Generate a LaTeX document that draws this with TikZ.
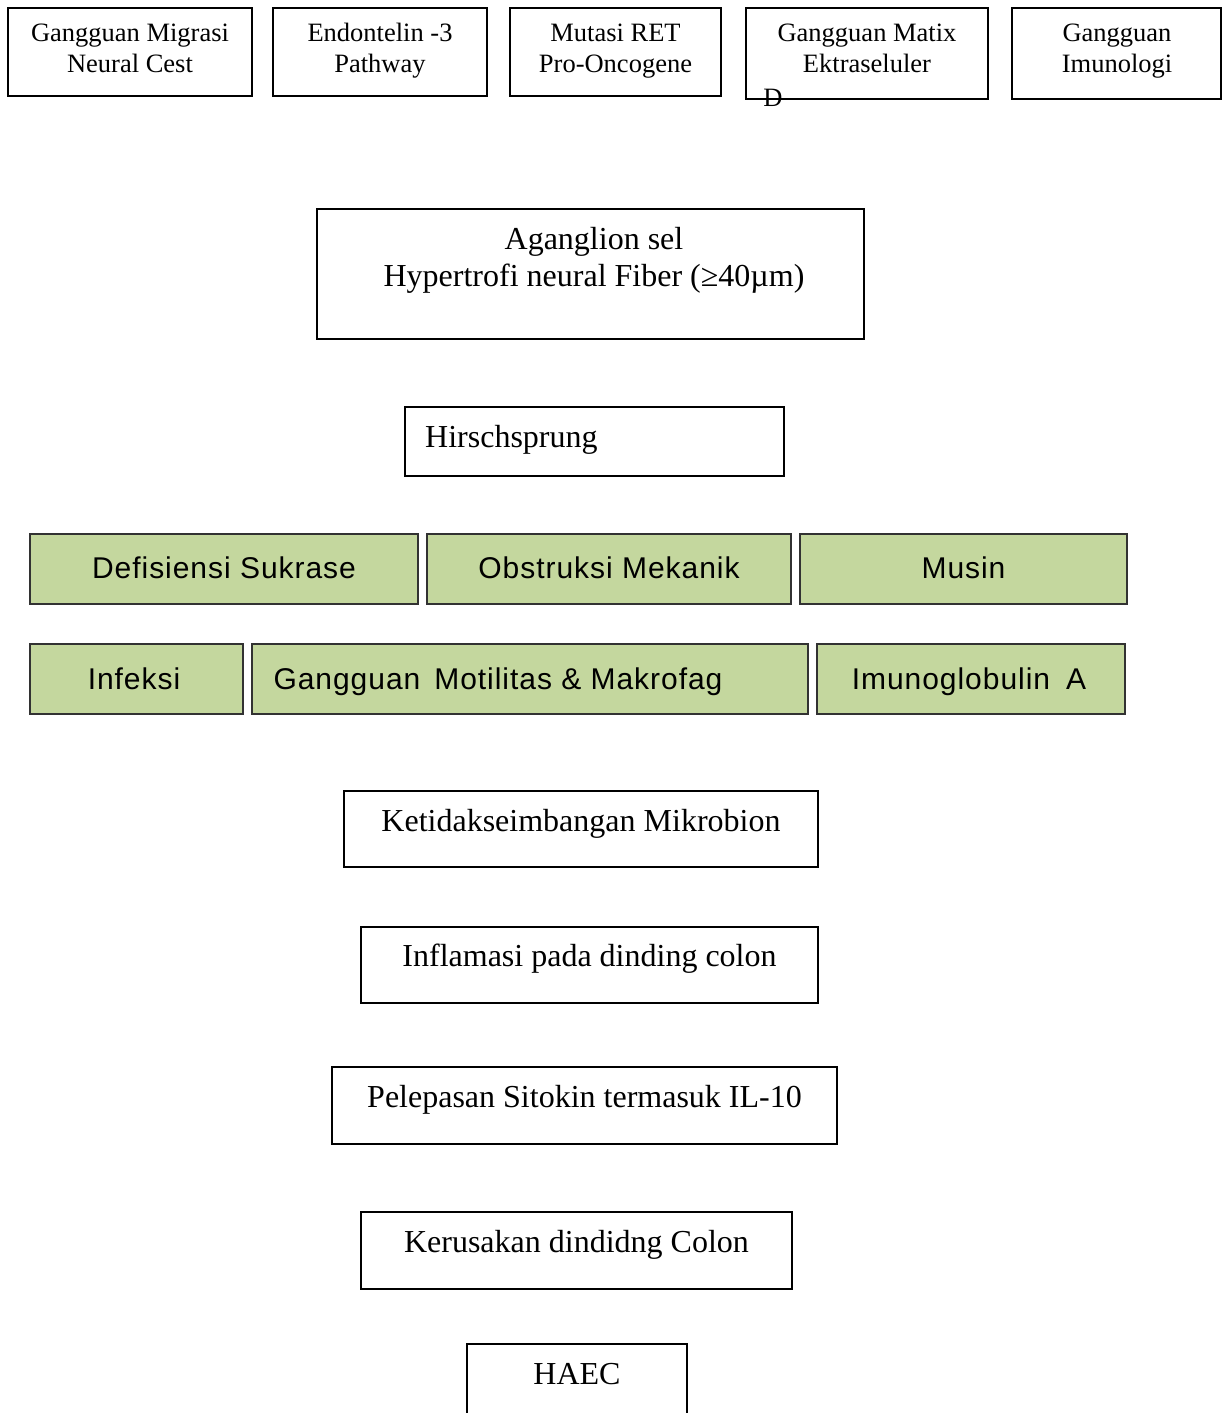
\documentclass[tikz,border=0pt]{standalone}
\usepackage{fontspec}
\setmainfont{Liberation Serif}
\newfontfamily\gfont[LetterSpace=3.2]{Liberation Sans}
\definecolor{gfill}{RGB}{196,215,158}
\definecolor{gline}{RGB}{50,50,50}
\begin{document}
\begin{tikzpicture}[x=1pt,y=-1pt,
  wbox/.style={draw=black, line width=1.3pt, inner sep=0pt},
  gbox/.style={draw=gline, fill=gfill, line width=1.3pt, inner sep=0pt},
  toptxt/.style={anchor=base, inner sep=0pt, align=center, font=\fontsize{26.5}{31}\selectfont},
  agtxt/.style={anchor=base, inner sep=0pt, align=center, font=\fontsize{32}{37}\selectfont},
  midtxt/.style={anchor=base, inner sep=0pt, align=center, font=\fontsize{32}{37}\selectfont},
  gtxt/.style={anchor=base, inner sep=0pt, font=\gfont\fontsize{30}{36}\selectfont}]
\useasboundingbox (0,0) rectangle (1223,1413);
% top row
\node[wbox, minimum width=244, minimum height=88] (b1) at (130,52) {};
\node[wbox, minimum width=214, minimum height=88] (b2) at (380,52) {};
\node[wbox, minimum width=211, minimum height=88] (b3) at (615.5,52) {};
\node[wbox, minimum width=242, minimum height=91] (b4) at (867,53.5) {};
\node[wbox, minimum width=209, minimum height=91] (b5) at (1116.5,53.5) {};
\node[toptxt] (t1) at (130,72) {Gangguan Migrasi\\Neural Cest};
\node[toptxt] (t2) at (380,72) {Endontelin -3\\Pathway};
\node[toptxt] (t3) at (615.5,72) {Mutasi RET\\Pro-Oncogene};
\node[toptxt] (t4) at (867,72) {Gangguan Matix\\Ektraseluler};
\node[toptxt] (t5) at (1117,72) {Gangguan\\Imunologi};
\node[toptxt] (tD) at (773,106) {D};
% aganglion
\node[wbox, minimum width=547, minimum height=130] (ag) at (590.5,274) {};
\node[agtxt] (agt) at (594,286) {Aganglion sel\\Hypertrofi neural Fiber (≥40µm)};
% hirschsprung
\node[wbox, minimum width=379, minimum height=69] (hs) at (594.5,441.5) {};
\node[midtxt, anchor=base west] (hst) at (425,447) {Hirschsprung};
% green row 1
\node[gbox, minimum width=388, minimum height=70] (g1) at (224,569) {};
\node[gbox, minimum width=364, minimum height=70] (g2) at (609,569) {};
\node[gbox, minimum width=327, minimum height=70] (g3) at (963.5,569) {};
\node[gtxt] (g1t) at (224,578) {Defisiensi Sukrase};
\node[gtxt] (g2t) at (609,578) {Obstruksi Mekanik};
\node[gtxt] (g3t) at (963.5,578) {Musin};
% green row 2
\node[gbox, minimum width=213, minimum height=70] (g4) at (136.5,679) {};
\node[gbox, minimum width=556, minimum height=70] (g5) at (530,679) {};
\node[gbox, minimum width=308, minimum height=70] (g6) at (971,679) {};
\node[gtxt] (g4t) at (134,689) {Infeksi};
\node[gtxt] (g5t) at (498,689) {Gangguan\hspace{14pt}Motilitas \& Makrofag};
\node[gtxt] (g6t) at (969,689) {Imunoglobulin\hspace{16pt}A};
% lower chain
\node[wbox, minimum width=474, minimum height=76] (k) at (581,829) {};
\node[midtxt] (kt) at (581,831.5) {Ketidakseimbangan Mikrobion};
\node[wbox, minimum width=457, minimum height=76] (inf) at (589.5,965) {};
\node[midtxt] (inft) at (589.5,966.5) {Inflamasi pada dinding colon};
\node[wbox, minimum width=505, minimum height=77] (pl) at (584.5,1105.5) {};
\node[midtxt] (plt) at (584.5,1107.5) {Pelepasan Sitokin termasuk IL-10};
\node[wbox, minimum width=431, minimum height=77] (kr) at (576.5,1250.5) {};
\node[midtxt] (krt) at (576.5,1252.5) {Kerusakan dindidng Colon};
\node[wbox, minimum width=220, minimum height=100] (ha) at (577,1394) {};
\node[midtxt] (hat) at (577,1384.5) {HAEC};
\end{tikzpicture}
\end{document}
